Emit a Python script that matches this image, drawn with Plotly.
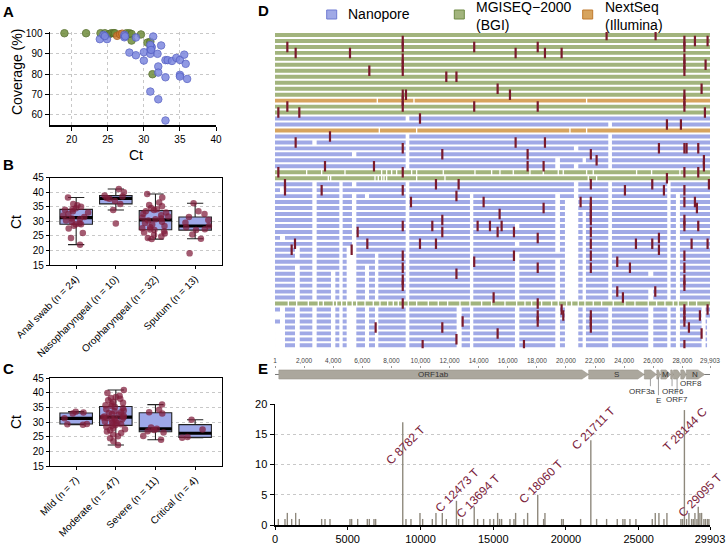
import plotly.graph_objects as go
import numpy as np

W, H = 726, 544
FONT = "Liberation Sans, Arial, sans-serif"

# ---------------- Panel A : Ct vs coverage ----------------
A_GREEN_CT = [19.0, 22.0, 24.0, 24.6, 25.2, 25.5, 25.8, 26.0, 27.6, 28.0, 28.3, 29.6, 28.3, 30.5, 30.9, 31.2]
A_GREEN_COV = [100, 100, 100, 100, 99.6, 100, 100, 100, 100, 100, 99.6, 99.4, 96.4, 95.4, 95.8, 79.9]
A_ORANGE_CT = [26.3, 26.7, 27.0]
A_ORANGE_COV = [98.7, 99.5, 99.8]
A_BLUE_CT = [23.9, 24.4, 24.9, 24.6, 27.3, 27.3, 27.4, 28.9, 31.3, 28.0, 28.9, 30.0, 30.0,
             30.9, 30.9, 31.0, 31.1, 30.9, 31.0, 31.9, 32.4, 33.0, 33.3, 33.9, 34.5, 35.0,
             35.6, 35.8, 32.0, 32.0, 33.0, 35.0, 35.0, 36.0, 30.9, 32.0, 33.0]
A_BLUE_COV = [97.1, 99.2, 97.1, 98.6, 98.0, 99.2, 98.5, 97.9, 98.4, 90.5, 89.2, 90.7, 86.6,
              89.9, 92.3, 93.5, 93.1, 94.3, 91.8, 89.9, 94.0, 86.8, 86.8, 86.4, 87.9, 86.9,
              89.5, 85.0, 83.7, 80.7, 78.4, 79.6, 78.8, 77.6, 71.4, 67.6, 57.2]

# ---------------- Panel B : Ct by sample type ----------------
B_CATS = ["Anal swab (n = 24)", "Nasopharyngeal (n = 10)", "Oropharyngeal (n = 32)", "Sputum (n = 13)"]
B_ANAL = [22, 24.3, 26, 27.5, 28.5, 29, 29, 29.3, 29.8, 30.3, 30.8, 31, 31.5, 32, 32.5, 33,
          33.5, 34, 34.2, 34.5, 35, 35.5, 36, 38.2]
B_NASO = [29.3, 33.9, 36, 37, 37.8, 38, 38.5, 38.9, 40, 41.1]
B_ORO = [23.9, 24.3, 24.8, 25.3, 25.8, 26.2, 26.6, 27.0, 27.2, 27.6, 28.0, 28.4, 28.9, 29.4,
         29.9, 30.3, 30.7, 31.0, 31.3, 31.7, 32.1, 32.6, 33.0, 33.5, 33.9, 34.2, 34.6, 35.2,
         35.6, 36.5, 38.2, 39.4]
B_SPUT = [19, 24, 25.5, 27, 27.3, 28, 28.4, 29.5, 30.5, 31.5, 32.5, 33.5, 36.2]

# ---------------- Panel C : Ct by severity ----------------
C_CATS = ["Mild (n = 7)", "Moderate (n = 47)", "Severe (n = 11)", "Critical (n = 4)"]
C_MILD = [29.1, 29.3, 29.4, 31.3, 33.0, 33.3, 33.6]
C_MOD = [22.2, 23.5, 24.5, 25.2, 25.8, 26.3, 26.8, 27.2, 27.6, 28.0, 28.4, 28.8, 29.0, 29.3,
         29.6, 29.9, 30.2, 30.5, 30.8, 31.0, 31.2, 31.4, 31.6, 31.7, 31.9, 32.2, 32.5, 32.8,
         33.1, 33.4, 33.7, 34.0, 34.4, 34.8, 35.2, 35.5, 35.8, 36.2, 36.6, 37.0, 37.5, 38.0,
         38.3, 38.6, 39.0, 40.0, 41.0]
C_SEV = [24, 25.3, 26.5, 26.9, 27.3, 27.7, 28.2, 33.0, 33.4, 34.2, 36]
C_CRIT = [24.7, 24.9, 27.5, 30.8]

# ---------------- Panel D : genome coverage per sample ----------------
GENOME_LEN = 29903
PLATFORM_NAMES = ["Nanopore", "MGISEQ\u22122000<br>(BGI)", "NextSeq<br>(Illumina)"]
# N = Nanopore, G = MGISEQ-2000, O = NextSeq
ROW_PLATFORM = (["G"] * 11 + ["O"] + ["G"] * 2 + ["N"] * 2 + ["O"] + ["N"] * 6 + ["G"] * 2
                + ["N"] * 20 + ["G"] + ["N"] * 7)
GAP_TABLE = {
    "z": (1, 344), "r": (344, 687), "m": (1375, 1700), "a": (2566, 2864), "n": (3849, 4147),
    "b": (4422, 4651), "s": (4926, 5292), "c": (5292, 5590), "o": (6186, 6461),
    "p": (6873, 7102), "d": (8981, 9233), "q": (12486, 12830), "e": (13402, 13631),
    "f": (16495, 16793), "g": (19267, 19588), "h": (19932, 20848), "y": (20550, 20848),
    "i": (21146, 21375), "j": (22910, 23162), "v": (25659, 26003), "k": (26965, 27194),
    "l": (27560, 27835), "w": (29325, 29600), "x": (29700, 29903),
}
ROW_GAPS = [
    "", "", "", "", "", "", "", "", "", "", "", "", "", "",
    "d", "j", "", "dj", "adj", "dyj", "cdj", "dgij", "dgyj", "", "",
    "abcdyjk", "rabdyjk", "abcodegyjkl", "abcdeghjkl", "abcdeghjkl", "abcdeghijkl",
    "abcdeghijkl", "abcdefghijkl", "abcdeghijkl", "rabcdeghijkl", "abcdefghijkl",
    "mabscdeghijkl", "mabscpdefhijkl", "abscpdefghijkl", "mabscopdefghijkl",
    "manbscopdefghijvkl", "manbscopdefghijkl", "manbscopdefghijkl", "manbscopdefghijvkl",
    "manbscopdefghijvkl", "",
    "rmanbscopdqefghijvklw", "zrmanbscopdqefghijvklw", "rmanbscopdqefghijvklwx",
    "zrmanbscopdqefghijvklwx", "zrmanbscopdqefghijvklwx", "zrmanbscopdqefghijvklwx",
    "zrmanbscopdqefghijvklwx",
]
ROW_SMALL_GAPS = {
    11: [7033, 9553, 21421],
    16: [7171, 9737, 20275, 21421],
    23: [2176, 3207, 4811, 7331, 7675, 8019, 8362, 9393, 9737, 11570, 13746, 14892, 15464,
         16381, 17526, 18442, 19473, 19817, 21421, 21879, 24857, 25888, 27835],
    24: [3666, 3826, 6873, 7102, 7331, 7491, 7675, 9737, 11684, 21535, 22108],
    45: [916, 1489, 2291, 2978, 3322, 4009, 4238, 4582, 4926, 5315, 5613, 6186, 6758, 7217,
         7744, 8133, 8477, 9164, 9737, 10539, 11226, 11867, 12715, 13402, 14204, 14892,
         15808, 16610, 17183, 17641, 18328, 19015, 19474, 20046, 20390, 20848, 21306,
         21879, 22452, 23254, 24056, 24743, 25659, 26232, 26805, 27377, 27721, 28408, 28981],
}
ROW_MUTATIONS = [
    [22795, 26163], [8782, 28144, 28867, 29737], [848, 8782, 13694, 18060, 28144],
    [1420, 5155, 16541, 18557, 19703], [8782, 28144], [8782, 28144, 29600],
    [6484, 8782, 28144], [11776, 12473], [], [15304, 29325], [8782, 9003, 16152, 28144],
    [8782, 28144], [848, 8782, 13694, 18060, 28144], [229, 1672, 29554],
    [9966], [26942, 27904], [], [3780], [1420, 16541, 18557],
    [8782, 26392, 28144, 28293, 29095], [11501, 17366, 21711], [22108, 29485],
    [3437, 6804, 17366, 18465, 29485], [229, 8782, 28144, 29095], [26942],
    [687, 11065, 12623, 21711, 25934, 29829], [687, 3207, 8782, 24055, 26736, 28144],
    [12473], [9347, 14342, 21008, 21711, 28144, 28867], [18465, 21711, 29004],
    [15441, 21711], [11501, 21711, 28144],
    [8782, 10814, 13929, 14777, 15579, 28144, 29095], [5682, 11501, 15304, 16427, 21711],
    [18060, 26392], [1375, 6346, 9966, 11065, 21711, 24811, 25934, 28638, 29737],
    [1146, 5269, 26392], [8782, 16427, 21711, 28144], [13694, 23528],
    [8782, 18060, 21711, 24399, 28144], [12473], [8782, 28144], [8782, 28144],
    [23528, 26140], [15029, 23917], [8782, 18060],
    [19703, 28144, 29737], [18060, 19817, 21711, 28144, 29210], [12898, 18060, 21711, 28144],
    [6919, 11501, 21711, 28454], [15304, 29325], [12473], [10149, 17114, 28144],
]

# ---------------- Panel E : genome map + mutation counts ----------------
GENES = ["ORF1ab", "S", "ORF3a", "E", "M", "ORF6", "ORF7", "ORF8", "N"]
GENE_START = [266, 21563, 25393, 26245, 26523, 27202, 27394, 27894, 28274]
GENE_END = [21555, 25384, 26220, 26472, 27191, 27387, 27887, 28259, 29533]
MAP_TICKS = [1, 2000, 4000, 6000, 8000, 10000, 12000, 14000, 16000, 18000, 20000, 22000,
             24000, 26000, 28000, 29903]
MAP_TICKTEXT = ["1", "2,000", "4,000", "6,000", "8,000", "10,000", "12,000", "14,000",
                "16,000", "18,000", "20,000", "22,000", "24,000", "26,000", "28,000", "29,903"]

E_POS = [229, 687, 848, 1146, 1420, 1672, 3207, 3437, 3780, 5155, 5269, 5682, 6346, 6484,
         6804, 6919, 8782, 9003, 9347, 9966, 10149, 10814, 11065, 11501, 11776, 12473, 12623,
         12898, 13694, 13929, 14342, 14777, 15029, 15304, 15441, 15579, 16152, 16427, 16541,
         17114, 17366, 18060, 18465, 18557, 19703, 19817, 21008, 21711, 22108, 22795, 23528,
         23917, 24055, 24399, 24811, 25934, 26140, 26392, 26736, 26942, 27904, 28019, 28144,
         28293, 28454, 28638, 28752, 28867, 29004, 29095, 29210, 29325, 29485, 29600, 29737,
         29829]
E_COUNT = [1, 1, 2, 1, 2, 1, 1, 1, 1, 1, 1, 1, 1, 1,
           1, 1, 17, 1, 1, 2, 1, 1, 2, 2, 1, 4, 1,
           1, 3, 1, 1, 1, 1, 2, 1, 1, 1, 1, 2,
           1, 2, 5, 1, 2, 1, 1, 1, 14, 1, 1, 1,
           1, 1, 1, 1, 1, 2, 2, 1, 2, 1, 1, 19,
           1, 2, 1, 1, 2, 1, 3, 2, 2, 1, 1, 1,
           1]
E_LABEL_POS = [8782, 12473, 13694, 18060, 21711, 28144, 29095]
E_LABEL_TEXT = ["C 8782 T", "C 12473 T", "C 13694 T", "C 18060 T", "C 21711 T", "T 28144 C", "C 29095 T"]
E_X_TICKS = [0, 5000, 10000, 15000, 20000, 25000, 29903]

# ---------------- styling ----------------
BLUE_PT, BLUE_EDGE = "#7d88df", "#5862c6"
GREEN_PT, GREEN_EDGE = "#6f8c3b", "#536d27"
ORANGE_PT, ORANGE_EDGE = "#d07a32", "#a75d1f"
PLAT_COLOR = {"N": "#a0a9e6", "G": "#a2b47d", "O": "#d7a45e"}
MUT_COLOR = "#7a1a2c"
BOX_FILL = "#9ea8e8"
PT_COLOR = "rgba(128,28,58,0.72)"
BAR_GREY = "#8e887c"
LABEL_RED = "#7b1d3b"
GENE_FILL = "#aba79d"
# label offsets (px) for E annotations
E_LABEL_SHIFT = [(3, -23), (1, 11), (4, 11), (3, 13), (3, 12), (1, -19), (2, 12)]
# small gene labels: (gene index, x genome, y map units, leader top, leader bottom)
GENE_SMALL_LABELS = [(2, 25250, -1.85, -0.5, -1.3), (3, 26360, -2.85, -0.3, -2.3),
                     (5, 27330, -1.85, -0.5, -1.3), (6, 27640, -2.75, -0.5, -2.2),
                     (7, 28600, -0.95, -0.5, -0.5)]


def dom_x(p0, p1):
    return [p0 / W, p1 / W]


def dom_y(top, bottom):
    return [1 - bottom / H, 1 - top / H]


fig = go.Figure()

# ---- A
for ct, cov, fc, lc in [(A_GREEN_CT, A_GREEN_COV, GREEN_PT, GREEN_EDGE),
                        (A_ORANGE_CT, A_ORANGE_COV, ORANGE_PT, ORANGE_EDGE),
                        (A_BLUE_CT, A_BLUE_COV, BLUE_PT, BLUE_EDGE)]:
    fig.add_trace(go.Scatter(x=ct, y=cov, mode="markers", xaxis="x", yaxis="y",
                             cliponaxis=False, showlegend=False, hoverinfo="skip",
                             marker=dict(size=7.5, color=fc, opacity=0.85,
                                         line=dict(color=lc, width=1))))


# ---- B / C boxes
def add_boxes(groups, xa, ya):
    xs, ys = [], []
    for i, g in enumerate(groups):
        xs += [i] * len(g)
        ys += list(g)
    fig.add_trace(go.Box(x=xs, y=ys, xaxis=xa, yaxis=ya, boxpoints="all", pointpos=0,
                         quartilemethod="inclusive", width=0.82, whiskerwidth=0.5,
                         fillcolor=BOX_FILL, line=dict(color="#222222", width=1.1),
                         marker=dict(opacity=0, size=1), showlegend=False, hoverinfo="skip"))
    meds = [float(np.median(g)) for g in groups]
    fig.add_trace(go.Box(x=list(range(len(groups))), q1=meds, median=meds, q3=meds,
                         lowerfence=meds, upperfence=meds, xaxis=xa, yaxis=ya,
                         width=0.82, whiskerwidth=0, boxpoints=False, fillcolor="black",
                         line=dict(color="black", width=3.2), showlegend=False, hoverinfo="skip"))
    fig.add_trace(go.Box(x=xs, y=ys, xaxis=xa, yaxis=ya, boxpoints="all", pointpos=0,
                         jitter=0.85, quartilemethod="inclusive", width=0.82,
                         fillcolor="rgba(0,0,0,0)", line=dict(color="rgba(0,0,0,0)", width=0),
                         marker=dict(color=PT_COLOR, size=6.5), showlegend=False,
                         hoverinfo="skip"))


add_boxes([B_ANAL, B_NASO, B_ORO, B_SPUT], "x2", "y2")
add_boxes([C_MILD, C_MOD, C_SEV, C_CRIT], "x3", "y3")


# ---- D coverage rows
def covered_segments(gaps):
    gaps = sorted(gaps)
    segs, cur = [], 0
    for a, b in gaps:
        if a > cur:
            segs.append((cur, a))
        cur = max(cur, b)
    if cur < GENOME_LEN:
        segs.append((cur, GENOME_LEN))
    return segs


for plat in ["N", "G", "O"]:
    ys, bases, lens = [], [], []
    for r, p in enumerate(ROW_PLATFORM):
        if p != plat:
            continue
        gaps = [GAP_TABLE[c] for c in ROW_GAPS[r]]
        gaps += [(c - 45, c + 45) for c in ROW_SMALL_GAPS.get(r, [])]
        for a, b in covered_segments(gaps):
            ys.append(r)
            bases.append(a)
            lens.append(b - a)
    fig.add_trace(go.Bar(y=ys, x=lens, base=bases, orientation="h", width=0.66,
                         xaxis="x4", yaxis="y4", marker=dict(color=PLAT_COLOR[plat], line=dict(width=0)),
                         showlegend=False, hoverinfo="skip"))

mx, my = [], []
for r, muts in enumerate(ROW_MUTATIONS):
    for m in muts:
        mx.append(m)
        my.append(r)
fig.add_trace(go.Scatter(x=mx, y=my, mode="markers", xaxis="x4", yaxis="y4",
                         marker=dict(symbol="line-ns", size=7.5, line=dict(color=MUT_COLOR, width=2.2)),
                         showlegend=False, hoverinfo="skip"))

# ---- E genome map
fig.add_trace(go.Scatter(x=[1, GENOME_LEN], y=[0, 0], mode="lines", xaxis="x5", yaxis="y5",
                         line=dict(color="#777777", width=1), showlegend=False, hoverinfo="skip"))
for g, s, e in zip(GENES, GENE_START, GENE_END):
    head = min(450, 0.45 * (e - s))
    fig.add_trace(go.Scatter(x=[s, e - head, e, e - head, s, s], y=[-0.5, -0.5, 0, 0.5, 0.5, -0.5],
                             mode="lines", fill="toself", fillcolor=GENE_FILL,
                             line=dict(color="#9a968c", width=0.6), xaxis="x5", yaxis="y5",
                             showlegend=False, hoverinfo="skip"))
small_idx = [t[0] for t in GENE_SMALL_LABELS]
for gi, gx, gy, y0, y1 in GENE_SMALL_LABELS:
    xm = (GENE_START[gi] + GENE_END[gi]) / 2
    fig.add_trace(go.Scatter(x=[xm, xm], y=[y0, y1], mode="lines", xaxis="x5", yaxis="y5",
                             line=dict(color="#888888", width=0.8), showlegend=False, hoverinfo="skip"))

# ---- E mutation counts
fig.add_trace(go.Bar(x=E_POS, y=E_COUNT, width=95, xaxis="x6", yaxis="y6",
                     marker=dict(color=BAR_GREY, line=dict(width=0)), showlegend=False,
                     hoverinfo="skip"))

annotations = []
shapes = []
for pos, txt, (dx, dy) in zip(E_LABEL_POS, E_LABEL_TEXT, E_LABEL_SHIFT):
    cnt = E_COUNT[E_POS.index(pos)]
    annotations.append(dict(x=pos, y=cnt, xref="x6", yref="y6", text=txt, textangle=-45,
                            showarrow=False, xshift=dx, yshift=dy, xanchor="center", yanchor="middle",
                            font=dict(size=12, color=LABEL_RED, family=FONT)))

for i, g in enumerate(GENES):
    if i in small_idx:
        continue
    annotations.append(dict(x=(GENE_START[i] + GENE_END[i]) / 2, y=0, xref="x5", yref="y5",
                            text=g, showarrow=False, xanchor="center", yanchor="middle",
                            font=dict(size=8, color="#333333", family=FONT)))
for gi, gx, gy, y0, y1 in GENE_SMALL_LABELS:
    annotations.append(dict(x=gx, y=gy, xref="x5", yref="y5", text=GENES[gi], showarrow=False,
                            xanchor="center", yanchor="middle",
                            font=dict(size=8, color="#333333", family=FONT)))


def paper_text(px, py, text, size=14, angle=0, bold=False, xanchor="center"):
    return dict(x=px / W, y=1 - py / H, xref="paper", yref="paper",
                text="<b>%s</b>" % text if bold else text, textangle=angle,
                showarrow=False, xanchor=xanchor, yanchor="middle", align="left",
                font=dict(size=size, color="black", family=FONT))


# panel letters
for letter, (px, py) in zip("ABCDE", [(8, 11), (8, 164), (8, 368), (263, 10), (263, 368)]):
    annotations.append(paper_text(px, py, letter, size=15, bold=True))

# axis titles
annotations += [
    paper_text(17, 72, "Coverage (%)", angle=-90),
    paper_text(136, 155, "Ct"),
    paper_text(16, 222, "Ct", angle=-90),
    paper_text(16, 422, "Ct", angle=-90),
]

# legend of D
leg_pos = [(331.7, 346), (459.3, 474), (587.7, 602.7)]
for (sx, tx), name, plat in zip(leg_pos, PLATFORM_NAMES, ["N", "G", "O"]):
    edge = {"N": "#6f7ad2", "G": "#6f8a45", "O": "#c07a2e"}[plat]
    shapes.append(dict(type="rect", xref="paper", yref="paper", x0=(sx - 5) / W, x1=(sx + 5) / W,
                       y0=1 - 19 / H, y1=1 - 10 / H, fillcolor=PLAT_COLOR[plat],
                       line=dict(color=edge, width=1)))
    annotations.append(paper_text(tx, 14.5 if plat == "N" else 16, name, xanchor="left"))

grid = dict(showgrid=True, gridcolor="#c8c8c8", griddash="dot", gridwidth=1)
tickf = dict(size=10, color="black", family=FONT)
noam = dict(automargin=False)

fig.update_layout(
    width=W, height=H, margin=dict(l=0, r=0, t=0, b=0, autoexpand=False),
    paper_bgcolor="white", plot_bgcolor="white",
    font=dict(family=FONT, color="black"),
    barmode="overlay", boxmode="overlay", showlegend=False,
    annotations=annotations, shapes=shapes,
    # A
    xaxis=dict(domain=dom_x(50, 216), range=[17, 40], tickvals=[20, 25, 30, 35, 40],
               showline=True, linecolor="black", linewidth=1.5, ticks="outside", ticklen=4,
               tickcolor="black", zeroline=False, tickfont=tickf, **grid, **noam),
    yaxis=dict(domain=dom_y(32, 125), range=[55, 100.6], tickvals=[60, 70, 80, 90, 100],
               showline=True, linecolor="black", linewidth=1.5, ticks="outside", ticklen=4,
               tickcolor="black", zeroline=False, tickfont=tickf, anchor="x", **grid, **noam),
    # B
    xaxis2=dict(domain=dom_x(50, 221.7), range=[-0.66, 3.67], tickvals=[0, 1, 2, 3],
                ticktext=B_CATS, tickangle=-45, showline=True, mirror=True, linecolor="black",
                linewidth=1.2, ticks="outside", ticklen=3, tickcolor="black", zeroline=False,
                showgrid=False, tickfont=tickf, anchor="y2", **noam),
    yaxis2=dict(domain=dom_y(177.7, 265), range=[15, 45], tickvals=[15, 20, 25, 30, 35, 40, 45],
                showline=True, mirror=True, linecolor="black", linewidth=1.2, ticks="outside",
                ticklen=3, tickcolor="black", zeroline=False, tickfont=tickf, anchor="x2", **grid, **noam),
    # C
    xaxis3=dict(domain=dom_x(50, 221.7), range=[-0.66, 3.67], tickvals=[0, 1, 2, 3],
                ticktext=C_CATS, tickangle=-45, showline=True, mirror=True, linecolor="black",
                linewidth=1.2, ticks="outside", ticklen=3, tickcolor="black", zeroline=False,
                showgrid=False, tickfont=tickf, anchor="y3", **noam),
    yaxis3=dict(domain=dom_y(378.3, 466), range=[15, 45], tickvals=[15, 20, 25, 30, 35, 40, 45],
                showline=True, mirror=True, linecolor="black", linewidth=1.2, ticks="outside",
                ticklen=3, tickcolor="black", zeroline=False, tickfont=tickf, anchor="x3", **grid, **noam),
    # D
    xaxis4=dict(domain=dom_x(275, 710), range=[0, GENOME_LEN], visible=False, anchor="y4", **noam),
    yaxis4=dict(domain=dom_y(32, 348.3), range=[52.5, -0.5], visible=False, anchor="x4", **noam),
    # E map
    xaxis5=dict(domain=dom_x(275, 710), range=[0, GENOME_LEN], side="top", tickvals=MAP_TICKS,
                ticktext=MAP_TICKTEXT, ticks="outside", ticklen=2, tickcolor="#999999",
                tickfont=dict(size=6.5, color="#444444", family=FONT), showline=False,
                showgrid=False, zeroline=False, anchor="y5", **noam),
    yaxis5=dict(domain=dom_y(369, 405), range=[-3.39, 0.61], visible=False, anchor="x5", **noam),
    # E bars
    xaxis6=dict(domain=dom_x(275, 710), range=[0, GENOME_LEN], tickvals=E_X_TICKS, tickformat="d",
                showline=True, linecolor="black", linewidth=1.5, ticks="outside", ticklen=3,
                tickcolor="black", zeroline=False, showgrid=False,
                tickfont=dict(size=11, color="black", family=FONT), anchor="y6", **noam),
    yaxis6=dict(domain=dom_y(404, 525), range=[0, 20], tickvals=[0, 5, 10, 15, 20],
                showline=True, linecolor="black", linewidth=1.5, ticks="outside", ticklen=4,
                tickcolor="black", zeroline=False, tickfont=dict(size=11, color="black", family=FONT),
                anchor="x6", **grid, **noam),
)

fig.write_html("out.html", config={"displayModeBar": False, "staticPlot": True},
               post_script="document.body.style.margin='0';document.body.style.overflow='hidden';")
